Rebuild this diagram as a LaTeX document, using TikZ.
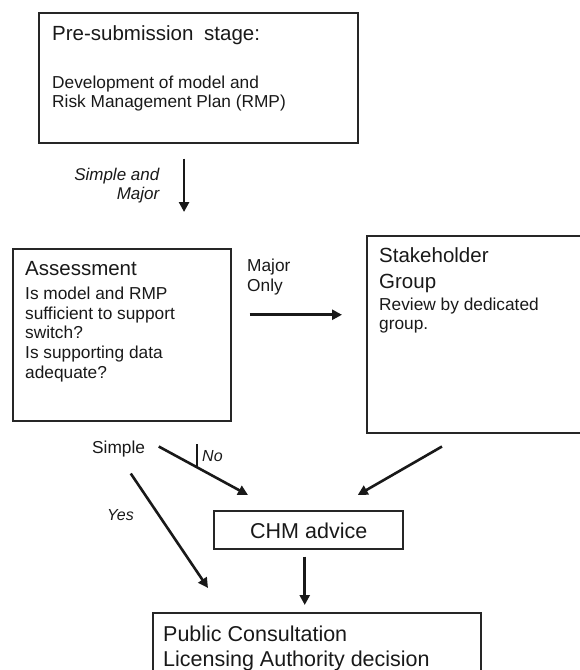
\documentclass[tikz,border=0pt]{standalone}
\usepackage{fontspec}
\setmainfont{Liberation Sans}
\usetikzlibrary{arrows.meta,calc}
\begin{document}
\begin{tikzpicture}[x=1pt,y=-1pt,
  box/.style={draw=black!85, line width=1.5pt, rectangle, anchor=north west, inner sep=0pt},
  arr/.style={draw=black!90, line width=2.6pt, -{Triangle[length=10pt,width=10pt]}},
  tick/.style={draw=black!90, line width=1.4pt},
  txt/.style={anchor=base west, inner sep=0pt, text=black!90, font=\fontsize{17.3}{20}\selectfont},
  head/.style={txt, font=\fontsize{20.5}{24}\selectfont},
  big/.style={txt, font=\fontsize{21.5}{25}\selectfont},
  cond/.style={anchor=base east, inner sep=0pt, text=black!90, font=\fontsize{17}{20}\selectfont\itshape},
  yesno/.style={anchor=base west, inner sep=0pt, text=black!90, font=\fontsize{16}{19}\selectfont\itshape}
]
\useasboundingbox (0,0) rectangle (580,670);
\clip (0,0) rectangle (580,670);

% boxes
\node[box, minimum width=319pt, minimum height=130pt] (pre)    at (38,12)  {};
\node[box, minimum width=218pt, minimum height=172pt] (assess) at (12,248) {};
\node[box, minimum width=234pt, minimum height=197pt] (stake)  at (366,235) {};
\node[box, minimum width=189pt, minimum height=38pt]  (chm)    at (213,510) {};
\node[box, minimum width=328pt, minimum height=90pt]  (pub)    at (152,612) {};

% pre-submission text
\node[head] (preH)  at (52,40.7) {Pre-submission\hspace{0.25em} stage:};
\node[txt]  (preL1) at (52,88)   {Development of model and};
\node[txt]  (preL2) at (52,107.5){Risk Management Plan (RMP)};

% assessment text
\node[head] (asH)  at (25,275)   {Assessment};
\node[txt]  (asL1) at (25,299.3) {Is model and RMP};
\node[txt]  (asL2) at (25,319)   {sufficient to support};
\node[txt]  (asL3) at (25,338.8) {switch?};
\node[txt]  (asL4) at (25,358.6) {Is supporting data};
\node[txt]  (asL5) at (25,378.4) {adequate?};

% stakeholder text
\node[head] (stH1) at (379,262)   {Stakeholder};
\node[head] (stH2) at (379,288.3) {Group};
\node[txt]  (stL1) at (379,310)   {Review by dedicated};
\node[txt]  (stL2) at (379,329.5) {group.};

% CHM and final decision text
\node[big] (chmT) at (250,538.3) {CHM advice};
\node[big] (pubL1) at (163,641) {Public Consultation};
\node[big] (pubL2) at (163,666) {Licensing Authority decision};

% route labels
\node[cond] (lSimpleAnd) at (159.5,180) {Simple and};
\node[cond] (lMajor)     at (159.5,199) {Major};
\node[txt]  (lMajorO)    at (247,271.7) {Major};
\node[txt]  (lOnly)      at (247,291.7) {Only};
\node[txt]  (lSimple)    at (92,453.3)  {Simple};
\node[yesno] (lNo)       at (202,461.7) {No};
\node[yesno] (lYes)      at (107,520)   {Yes};

% connectors
\draw[arr] ([xshift=-14.2pt,yshift=-15pt]pre.south) -- ([xshift=62.3pt,yshift=36pt]assess.north);
\draw[arr] ([xshift=18pt,yshift=20pt]assess.east) -- ([xshift=-24pt,yshift=19.5pt]stake.west);
\draw[arr] ([xshift=76pt,yshift=-13pt]stake.south west) -- ([xshift=49.5pt,yshift=15pt]chm.north);
\draw[arr] ([xshift=37pt,yshift=-25pt]assess.south) -- coordinate[pos=0.43] (nomark) ([xshift=35pt,yshift=15pt]chm.north west);
\draw[tick] (nomark) -- ++(0,-23);
\draw[arr] ([xshift=9pt,yshift=-52pt]assess.south) -- ([xshift=56pt,yshift=24pt]pub.north west);
\draw[arr] ([xshift=-3.5pt,yshift=-7pt]chm.south) -- ([xshift=-12pt,yshift=7pt]pub.north);
\end{tikzpicture}
\end{document}
